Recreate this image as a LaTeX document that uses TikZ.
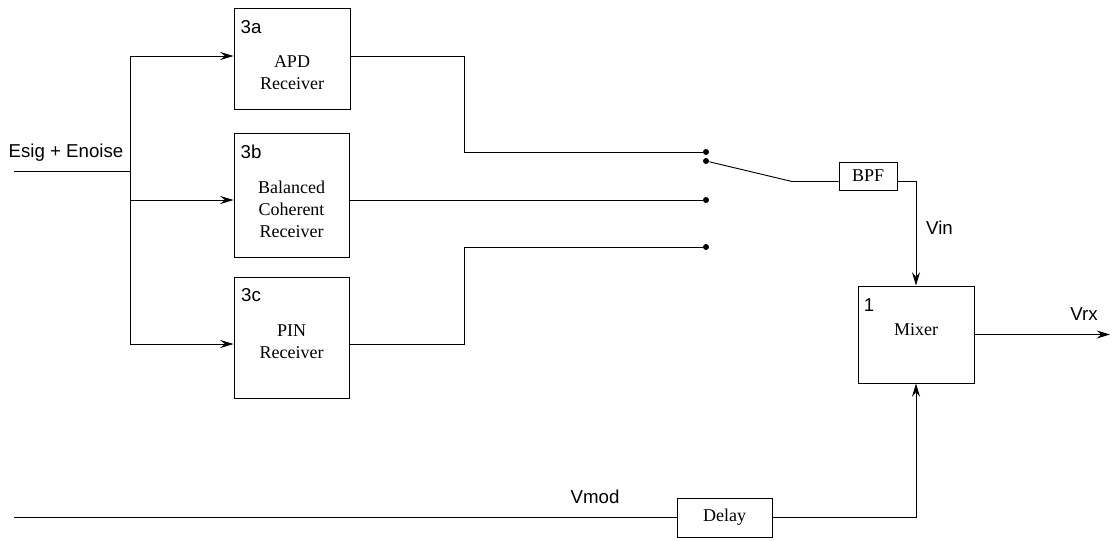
\documentclass[tikz,border=0pt]{standalone}
\usepackage{fontspec}
\setmainfont{Liberation Serif}
\newfontfamily\labelsans{Liberation Sans}
\usetikzlibrary{arrows.meta, positioning, calc}

\begin{document}
\begin{tikzpicture}[x=0.75pt, y=-0.75pt, line width=0.7pt,
    blockbox/.style={draw, inner sep=0pt},
    blocktext/.style={align=center, inner sep=0pt, font=\fontsize{13.5}{16.5}\selectfont},
    tag/.style={inner sep=0pt, font=\labelsans\fontsize{14}{16}\selectfont},
    contact/.style={circle, fill, inner sep=0pt, minimum size=4.5pt},
    sig/.style={-{Stealth[length=10pt, width=6pt, inset=3.5pt]}}]
    \useasboundingbox (0,0) rectangle (1116,540);

    % receiver blocks
    \node[blockbox, minimum width=87pt, minimum height=75.75pt] (apd) at (292,58.5) {};
    \node[blockbox, minimum width=86.25pt, minimum height=93pt] (bal) at (291.5,195) {};
    \node[blockbox, minimum width=86.25pt, minimum height=90.75pt] (pin) at (291.5,337.5) {};
    \node[tag] (apdnum) at (251,27.5) {3a};
    \node[tag] (balnum) at (251,152) {3b};
    \node[tag] (pinnum) at (251,295.5) {3c};
    \node[blocktext] (apdtxt) at (292,72.5) {APD\\Receiver};
    \node[blocktext] (baltxt) at (291.5,209) {Balanced\\Coherent\\Receiver};
    \node[blocktext] (pintxt) at (291.5,341.5) {PIN\\Receiver};

    % filter, mixer, delay
    \node[blockbox, minimum width=43.5pt, minimum height=21pt] (bpf) at (868,176) {};
    \node[blocktext] (bpftxt) at (bpf.center) {BPF};
    \node[blockbox, minimum width=87pt, minimum height=72.75pt] (mix) at (916,334.5) {};
    \node[tag] (mixnum) at (869,305) {1};
    \node[blocktext] (mixtxt) at (916,330) {Mixer};
    \node[blockbox, minimum width=71.25pt, minimum height=29.25pt] (dly) at (724.5,517.5) {};
    \node[blocktext] (dlytxt) at (dly.center) {Delay};

    % switch contacts
    \node[contact] (t1) at (706,152) {};
    \node[contact] (t0) at (706,161) {};
    \node[contact] (t2) at (706,200) {};
    \node[contact] (t3) at (706,247) {};

    % helper points
    \coordinate (inL) at (14,171);
    \coordinate (busT) at (130,56);
    \coordinate (busB) at (130,344);
    \coordinate (bendA) at (464,56);
    \coordinate (bendC) at (464,344);
    \coordinate (arm) at (792,181.5);
    \coordinate (vout) at (1110,334.5);
    \coordinate (modL) at (14,517.5);

    % labels
    \node[tag] (esig) at (66,152.5) {Esig + Enoise};
    \node[tag] (vin) at (939.5,227.5) {Vin};
    \node[tag] (vrx) at (1084,314.5) {Vrx};
    \node[tag] (vmod) at (595,496.5) {Vmod};

    % input distribution
    \draw (inL) -- (inL -| busT);
    \draw (busT) -- (busB);
    \draw[sig] (busT) -- (apd.west |- busT);
    \draw[sig] (bal.west |- t2 -| busT) -- (bal.west |- t2);
    \draw[sig] (busB) -- (pin.west |- busB);

    % receiver outputs to switch
    \draw (apd.east |- bendA) -- (bendA) |- (t1);
    \draw (bal.east |- t2) -- (t2);
    \draw (pin.east |- bendC) -- (bendC) |- (t3);
    \draw (t0) -- (arm) -- (bpf.west |- arm);

    % filter to mixer, mixer out
    \draw[sig] (bpf.east |- arm) -| (mix.north);
    \draw[sig] (mix.east) -- (vout);

    % modulation path
    \draw (modL) -- (dly.west);
    \draw[sig] (dly.east) -| (mix.south);
\end{tikzpicture}
\end{document}
